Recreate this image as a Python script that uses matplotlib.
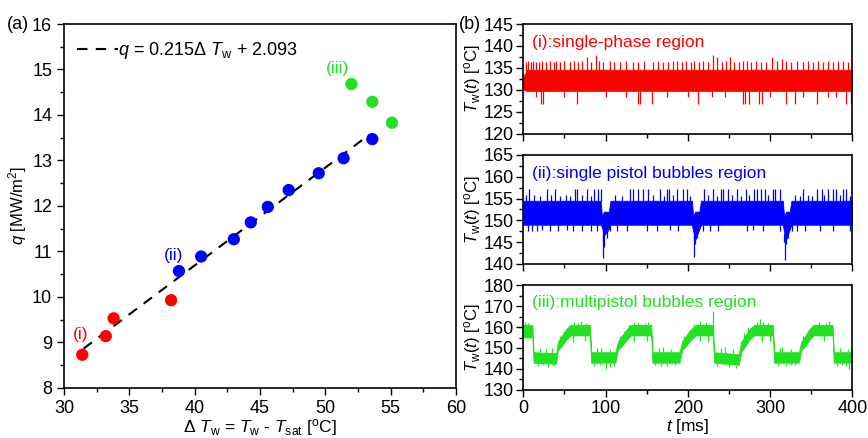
import matplotlib
matplotlib.use("Agg")
import matplotlib.pyplot as plt
from matplotlib.ticker import MultipleLocator

plt.rcParams['font.family'] = ['Liberation Sans', 'DejaVu Sans']
plt.rcParams['mathtext.fontset'] = 'custom'
plt.rcParams['mathtext.rm'] = 'Liberation Sans'
plt.rcParams['mathtext.it'] = 'Liberation Sans:italic'
plt.rcParams['font.size'] = 12

RED = '#ff0000'
BLUE = '#0000ff'
GREEN = '#22e022'

# ---- panel (a): heat flux vs wall superheat ----
dT_i = [31.4, 33.2, 33.8, 38.2]
q_i = [8.73, 9.14, 9.53, 9.93]
dT_ii = [38.8, 40.5, 43.0, 44.3, 45.6, 47.2, 49.5, 51.4, 53.6]
q_ii = [10.57, 10.89, 11.27, 11.64, 11.98, 12.35, 12.72, 13.05, 13.47]
dT_iii = [52.0, 53.6, 55.1]
q_iii = [14.68, 14.29, 13.83]
fit_slope, fit_icpt = 0.215, 2.093
fit_range = [31.5, 53.4]

# ---- panel (b): wall temperature signals (band envelope + spikes) ----
# (i) single-phase region
t1_env = [0, 2, 4, 400]
lo1_env = [130, 130, 129.8, 129.8]
hi1_env = [133.5, 133.5, 134.6, 134.6]
t1_up = [3, 6, 9, 12, 16, 19, 23, 28, 33, 37, 40, 45, 50, 57, 62, 66, 71, 77, 82, 88,
         92, 97, 105, 110, 118, 125, 133, 140, 147, 158, 164, 170, 176, 182, 187, 193,
         198, 204, 208, 214, 219, 225, 231, 235, 241, 246, 251, 256, 262, 267, 272, 277,
         283, 289, 295, 302, 308, 314, 320, 326, 333, 340, 346, 352, 358, 364, 370, 377,
         383, 389, 395]
v1_up = [136.3, 136.5, 136.4, 136.6, 136.4, 136.3, 136.5, 136.4, 136.5, 136.4, 136.6,
         136.3, 136.5, 136.4, 136.6, 136.4, 136.5, 137.5, 136.4, 138.0, 136.5, 136.3,
         136.5, 136.4, 136.3, 136.5, 136.4, 136.4, 136.5, 136.3, 136.5, 136.4, 136.3,
         136.5, 136.5, 136.4, 136.5, 136.3, 136.5, 136.4, 136.5, 136.4, 138.0, 137.5,
         136.4, 136.5, 137.5, 136.4, 136.3, 136.5, 136.6, 136.4, 136.5, 136.4, 136.3,
         137.5, 136.5, 137.0, 136.5, 136.3, 136.5, 136.4, 136.6, 136.3, 136.5, 136.4,
         136.5, 136.3, 136.5, 136.6, 136.4]
t1_dn = [15, 21, 23.5, 50, 65, 100, 125, 139, 142, 157, 175, 200, 213, 230, 245, 267,
         270, 274, 286.5, 290.5, 300, 319, 330, 340, 357, 370, 380, 392, 398]
v1_dn = [128.5, 126.8, 126.8, 128.5, 126.8, 128.5, 128.5, 126.8, 126.8, 126.8, 128.5,
         128.5, 126.8, 128.5, 128.5, 126.8, 126.8, 126.8, 126.8, 126.8, 128.5, 126.8,
         126.8, 128.5, 126.8, 128.5, 128.5, 126.8, 126.8]

# (ii) single pistol bubbles region
t2_env = [0, 94, 95.5, 98, 104, 106, 205, 206.5, 209, 214, 216, 315.5, 317, 319.5, 324,
          326, 400]
lo2_env = [149, 149, 148.5, 146.5, 148, 149, 149, 147.5, 145.5, 148, 149, 149, 147.5,
           145.5, 148, 149, 149]
hi2_env = [154.5, 154.5, 151, 152, 152, 154.5, 154.5, 151, 152, 152, 154.5, 154.5, 151,
           152, 152, 154.5, 154.5]
t2_up = [3, 7.3, 13, 20, 29, 34, 38.5, 45, 52, 57, 62.8, 65.7, 71, 77, 82, 86, 91.2, 94,
         112, 120, 129.7, 133.7, 139.8, 145.9, 152, 158, 166.7, 171, 175.1, 177.5, 182,
         186.5, 194.5, 198.6, 203, 220, 225, 231, 236, 240, 243.2, 249.3, 254, 259.4, 265,
         270.8, 275, 280.5, 283.8, 288.6, 293.9, 298, 303.9, 306, 312, 330, 336, 340, 346,
         351, 356.7, 362.8, 366, 370.8, 376.9, 380, 385, 389, 392.3, 397]
v2_up = [155.8, 157.1, 155.8, 155.6, 157.1, 155.8, 157.1, 155.6, 155.8, 155.6, 157.1,
         157.1, 155.8, 157.1, 155.6, 157.1, 157.1, 157.1, 155.8, 155.6, 157.1, 157.1,
         157.1, 157.1, 157.1, 155.8, 157.1, 155.6, 157.1, 157.1, 155.8, 157.1, 157.1,
         157.1, 155.6, 157.1, 155.8, 157.1, 155.6, 157.1, 157.1, 157.1, 155.8, 157.1,
         155.6, 157.1, 155.8, 157.1, 157.1, 157.1, 157.1, 155.8, 157.1, 157.1, 157.1,
         155.8, 155.6, 157.1, 155.8, 155.6, 157.1, 157.1, 155.8, 157.1, 157.1, 157.1,
         155.8, 157.1, 157.1, 155.6]
t2_dn = [6.1, 10.2, 16.2, 22.3, 32.4, 42.6, 52.7, 60.8, 71, 81.9, 89.2, 102, 105.4, 113.5,
         125.7, 150, 162.2, 178.4, 188.6, 211, 219, 227, 237, 271.6, 279.7, 291.8, 312,
         322, 326.3, 332.4, 342.5, 360.7, 376.9, 397]
v2_dn = [147.6, 147.6, 147.6, 147.8, 147.6, 147.6, 147.8, 147.6, 147.6, 147.6, 147.6,
         146.0, 147.6, 147.6, 147.6, 147.6, 147.6, 147.8, 147.6, 146.0, 147.6, 147.6,
         147.6, 147.6, 147.8, 147.6, 147.6, 146.0, 147.6, 147.6, 147.6, 147.6, 147.6,
         147.6]
t2_drop = [96.3, 97.3, 98.2, 207.0, 207.8, 208.6, 317.5, 318.3, 319.2]
v2_drop = [145.0, 141.3, 143.8, 145.5, 141.5, 144.5, 145.0, 141.0, 144.5]

# (iii) multipistol bubbles region
t3_env = [0, 11, 12.5, 40, 42, 47, 52, 58, 81, 82.5, 112, 115, 120, 126, 131, 155.5, 157,
          190, 193, 198, 204, 210, 230.5, 232, 262, 265, 270, 275, 281, 303.5, 305, 335,
          338, 343, 348, 353, 376, 377.5, 400]
lo3_env = [155, 155, 143, 142.5, 149, 151, 154, 156, 156, 143, 143, 149, 151, 154, 156,
           156, 143, 143, 149, 151, 154, 156, 156, 143, 142, 148, 151, 154, 156, 156, 143,
           143, 149, 151, 154, 156, 156, 143, 143]
hi3_env = [161, 161, 148, 147.5, 153, 156, 159, 161, 161, 148, 148, 153, 156, 159, 161,
           161, 148, 148, 153, 156, 159, 161, 161, 148, 147, 153, 156, 159, 161, 161, 148,
           148, 153, 156, 159, 161, 161, 148, 148]
t3_up = [2, 6, 20, 27, 35, 44, 49, 55, 62, 66, 70, 76, 90, 95, 105, 117, 123, 128, 135,
         140, 148, 152, 165, 170, 180, 195, 201, 207, 215, 222, 231, 240, 245, 255, 268,
         273, 284, 288, 292, 298, 312, 315, 325, 340, 346, 352, 360, 368, 372, 385, 395]
v3_up = [162.5, 162, 150, 149.5, 150, 155.5, 157.5, 161, 162.5, 162, 163, 162, 150, 150,
         149.5, 155.5, 158, 161, 162.5, 162, 162, 162.5, 150, 150.5, 149.5, 155.5, 158,
         161.5, 163, 162.5, 167.5, 150, 150.5, 149.5, 157, 160, 162.5, 164, 162.5, 162,
         150, 150.5, 149.5, 155.5, 158, 161, 162.5, 162, 163, 150, 149.5]
t3_dn = [18, 24, 30, 36, 60, 75, 86, 93, 100, 106, 110, 135, 150, 160, 168, 175, 185, 215,
         225, 236, 244, 250, 258, 290, 300, 310, 320, 326, 330, 365, 382, 388, 392, 396]
v3_dn = [141.5, 142, 141, 141.5, 153, 153.5, 141.5, 142, 140, 141, 141.5, 153, 153.5,
         142, 141.5, 141.5, 142, 153.5, 153, 141.5, 142, 141, 140.5, 153, 153.5, 141.5,
         141.5, 142, 142, 153.5, 141.5, 142, 141.5, 140]

# ---- figure ----
fig = plt.figure(figsize=(8.68, 4.38), dpi=100)

ax = fig.add_axes([0.0737, 0.1142, 0.4516, 0.831])
ax.scatter(dT_i, q_i, s=78, color=RED, edgecolors='none', zorder=3)
ax.scatter(dT_ii, q_ii, s=78, color=BLUE, edgecolors='none', zorder=3)
ax.scatter(dT_iii, q_iii, s=78, color=GREEN, edgecolors='none', zorder=3)
fit_q = [fit_slope * x + fit_icpt for x in fit_range]
ax.plot(fit_range, fit_q, color='black', lw=1.5, ls=(0, (5, 4)), zorder=2,
        label='$q$ = 0.215Δ $T_{\\rm w}$ + 2.093')
ax.text(31.3, 9.17, '(i)', color=RED, ha='center', va='center', fontsize=12.5)
ax.text(38.4, 10.92, '(ii)', color=BLUE, ha='center', va='center', fontsize=12.5)
ax.text(50.95, 15.03, '(iii)', color=GREEN, ha='center', va='center', fontsize=12.5)
leg = ax.legend(loc='upper left', frameon=False, handlelength=2.3, handletextpad=0.0,
                borderaxespad=0.3, fontsize=13, bbox_to_anchor=(0.0, 0.99))
ax.set_xlim(30, 60)
ax.set_ylim(8, 16)
ax.xaxis.set_major_locator(MultipleLocator(5))
ax.xaxis.set_minor_locator(MultipleLocator(2.5))
ax.yaxis.set_major_locator(MultipleLocator(1))
ax.yaxis.set_minor_locator(MultipleLocator(0.5))
ax.tick_params(which='major', length=5, width=1, labelsize=13)
ax.tick_params(which='minor', length=3, width=1)
ax.set_xlabel('Δ $T_{\\rm w}$ = $T_{\\rm w}$ - $T_{\\rm sat}$ [$^{\\rm o}$C]', fontsize=12.5,
              labelpad=0)
ax.set_ylabel('$q$ [MW/m$^2$]', fontsize=12, labelpad=2)
for sp in ax.spines.values():
    sp.set_linewidth(1.2)

fig.text(0.008, 0.945, '(a)', fontsize=13, va='center', ha='left')
fig.text(0.5545, 0.945, '(b)', fontsize=13, va='center', ha='right')

# right panels
panels = [
    (t1_env, lo1_env, hi1_env, [(t1_up, v1_up, 'hi'), (t1_dn, v1_dn, 'lo')], RED,
     (120, 145), 5, 2.5, '(i):single-phase region', [0.6029, 0.6941, 0.379, 0.2511]),
    (t2_env, lo2_env, hi2_env, [(t2_up, v2_up, 'hi'), (t2_dn, v2_dn, 'lo'),
                                (t2_drop, v2_drop, 'lo')], BLUE,
     (140, 165), 5, 2.5, '(ii):single pistol bubbles region', [0.6029, 0.3973, 0.379, 0.2489]),
    (t3_env, lo3_env, hi3_env, [(t3_up, v3_up, 'mid'), (t3_dn, v3_dn, 'mid')], GREEN,
     (130, 180), 10, 5, '(iii):multipistol bubbles region', [0.6029, 0.1096, 0.379, 0.2397]),
]

for k, (te, lo, hi, spikes, col, ylim, maj, mnr, title, rect) in enumerate(panels):
    a = fig.add_axes(rect)
    a.fill_between(te, lo, hi, color=col, lw=0.6, edgecolor=col)
    for ts, vs, base in spikes:
        for t, v in zip(ts, vs):
            # band edge at this time, taken from the envelope knots
            j = max(i for i in range(len(te)) if te[i] <= t)
            j = min(j, len(te) - 2)
            f = (t - te[j]) / (te[j + 1] - te[j])
            l = lo[j] + f * (lo[j + 1] - lo[j])
            h = hi[j] + f * (hi[j + 1] - hi[j])
            if base == 'hi' or (base == 'mid' and v > h):
                a.vlines(t, h, v, color=col, lw=0.9)
            else:
                a.vlines(t, v, l, color=col, lw=0.9)
    a.text(0.025, 0.83, title, transform=a.transAxes, color=col, fontsize=12.5,
           ha='left', va='center')
    a.set_xlim(0, 400)
    a.set_ylim(*ylim)
    a.xaxis.set_major_locator(MultipleLocator(100))
    a.xaxis.set_minor_locator(MultipleLocator(50))
    a.yaxis.set_major_locator(MultipleLocator(maj))
    a.yaxis.set_minor_locator(MultipleLocator(mnr))
    a.tick_params(which='major', length=5, width=1, labelsize=13, pad=2)
    a.tick_params(which='minor', length=3, width=1)
    a.set_ylabel('$T_{\\rm w}(t)$ [$^{\\rm o}$C]', fontsize=12, labelpad=0)
    for sp in a.spines.values():
        sp.set_linewidth(1.2)
    if k < 2:
        a.tick_params(labelbottom=False)
    else:
        a.set_xlabel('$t$ [ms]', fontsize=12.5, labelpad=0)

fig.savefig('out.png', dpi=100)
